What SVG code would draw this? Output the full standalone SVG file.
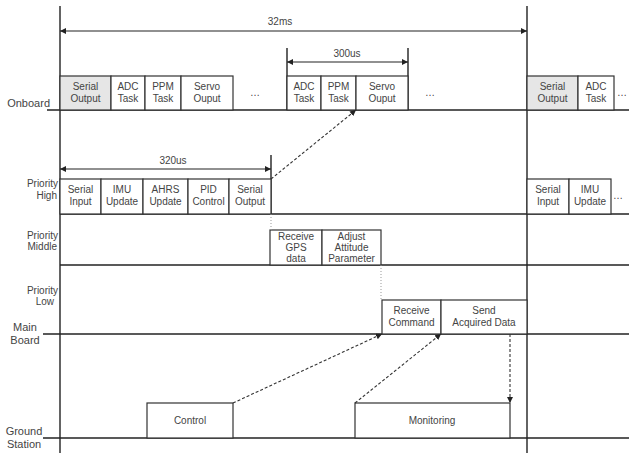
<svg xmlns="http://www.w3.org/2000/svg" width="629" height="453" viewBox="0 0 629 453">
<defs>
<marker id="ah" viewBox="0 0 10 10" refX="10" refY="5" markerWidth="6" markerHeight="6" orient="auto-start-reverse" markerUnits="userSpaceOnUse"><path d="M0,0 L10,5 L0,10 z" fill="#222"/></marker>
<style>
.ln{stroke:#222;stroke-width:1.4;fill:none}
.bx{stroke:#333;stroke-width:1.2;fill:#fff}
.gr{fill:#e6e6e6}
.t{font-family:"Liberation Sans",Arial,sans-serif;font-size:10px;fill:#444;text-anchor:middle}
.lb{font-family:"Liberation Sans",Arial,sans-serif;font-size:10px;fill:#444;text-anchor:end}
.da{stroke:#333;stroke-width:1.1;stroke-dasharray:3,2;fill:none}
.dt{stroke:#999;stroke-width:1;stroke-dasharray:1,2;fill:none}
</style>
</defs>
<rect width="629" height="453" fill="#fff"/>
<g id="axes">
<line class="ln" x1="60" y1="6" x2="60" y2="453"/>
<line class="ln" x1="527" y1="6" x2="527" y2="453"/>
<line class="ln" x1="47" y1="110" x2="629" y2="110"/>
<line class="ln" x1="60" y1="214" x2="629" y2="214"/>
<line class="ln" x1="60" y1="265" x2="629" y2="265"/>
<line class="ln" x1="43" y1="334" x2="629" y2="334"/>
<line class="ln" x1="43" y1="438" x2="629" y2="438"/>
</g>
<g id="labels">
<text class="lb" x="50" y="107" style="font-size:11px">Onboard</text>
<text class="lb" x="58" y="187">Priority</text>
<text class="lb" x="57" y="199">High</text>
<text class="lb" x="58" y="239">Priority</text>
<text class="lb" x="57" y="250">Middle</text>
<text class="lb" x="58" y="294">Priority</text>
<text class="lb" x="54" y="305">Low</text>
<text class="t" x="25" y="331" style="font-size:11px">Main</text>
<text class="t" x="25" y="344" style="font-size:11px">Board</text>
<text class="t" x="24" y="435" style="font-size:11px">Ground</text>
<text class="t" x="24" y="448" style="font-size:11px">Station</text>
</g>
<g id="dims">
<line class="ln" x1="60" y1="31" x2="527" y2="31" marker-start="url(#ah)" marker-end="url(#ah)" style="stroke-width:1.2"/>
<text class="t" x="280" y="25">32ms</text>
<line class="ln" x1="287" y1="48" x2="287" y2="110"/>
<line class="ln" x1="408" y1="48" x2="408" y2="110"/>
<line class="ln" x1="287" y1="62" x2="408" y2="62" marker-start="url(#ah)" marker-end="url(#ah)" style="stroke-width:1.2"/>
<text class="t" x="347" y="57">300us</text>
<line class="ln" x1="271" y1="155" x2="271" y2="214"/>
<line class="ln" x1="60" y1="169" x2="271" y2="169" marker-start="url(#ah)" marker-end="url(#ah)" style="stroke-width:1.2"/>
<text class="t" x="173" y="164">320us</text>
</g>
<g id="onboard">
<rect class="bx gr" x="60" y="76" width="51" height="34"/><text class="t" x="85.5" y="90">Serial</text><text class="t" x="85.5" y="102">Output</text>
<rect class="bx" x="111" y="76" width="34" height="34"/><text class="t" x="128" y="90">ADC</text><text class="t" x="128" y="102">Task</text>
<rect class="bx" x="145" y="76" width="36" height="34"/><text class="t" x="163" y="90">PPM</text><text class="t" x="163" y="102">Task</text>
<rect class="bx" x="181" y="76" width="52" height="34"/><text class="t" x="207" y="90">Servo</text><text class="t" x="207" y="102">Ouput</text>
<text class="t" x="255" y="96">…</text>
<rect class="bx" x="287" y="76" width="34" height="34"/><text class="t" x="304" y="90">ADC</text><text class="t" x="304" y="102">Task</text>
<rect class="bx" x="321" y="76" width="35" height="34"/><text class="t" x="338.5" y="90">PPM</text><text class="t" x="338.5" y="102">Task</text>
<rect class="bx" x="356" y="76" width="52" height="34"/><text class="t" x="382" y="90">Servo</text><text class="t" x="382" y="102">Ouput</text>
<text class="t" x="430" y="96">…</text>
<rect class="bx gr" x="527" y="76" width="51" height="34"/><text class="t" x="552.5" y="90">Serial</text><text class="t" x="552.5" y="102">Output</text>
<rect class="bx" x="578" y="76" width="36" height="34"/><text class="t" x="596" y="90">ADC</text><text class="t" x="596" y="102">Task</text>
<text class="t" x="622" y="96">…</text>
</g>
<g id="high">
<rect class="bx" x="60" y="179" width="41" height="35"/><text class="t" x="80.5" y="193">Serial</text><text class="t" x="80.5" y="205">Input</text>
<rect class="bx" x="101" y="179" width="42" height="35"/><text class="t" x="122" y="193">IMU</text><text class="t" x="122" y="205">Update</text>
<rect class="bx" x="143" y="179" width="45" height="35"/><text class="t" x="165.5" y="193">AHRS</text><text class="t" x="165.5" y="205">Update</text>
<rect class="bx" x="188" y="179" width="41" height="35"/><text class="t" x="208.5" y="193">PID</text><text class="t" x="208.5" y="205">Control</text>
<rect class="bx" x="229" y="179" width="42" height="35"/><text class="t" x="250" y="193">Serial</text><text class="t" x="250" y="205">Output</text>
<rect class="bx" x="527" y="179" width="42" height="35"/><text class="t" x="548" y="193">Serial</text><text class="t" x="548" y="205">Input</text>
<rect class="bx" x="569" y="179" width="42" height="35"/><text class="t" x="590" y="193">IMU</text><text class="t" x="590" y="205">Update</text>
<text class="t" x="618" y="199">…</text>
</g>
<g id="middle">
<rect class="bx" x="270" y="230" width="52" height="35"/><text class="t" x="296" y="240">Receive</text><text class="t" x="296" y="251">GPS</text><text class="t" x="296" y="262">data</text>
<rect class="bx" x="322" y="230" width="59" height="35"/><text class="t" x="351.5" y="240">Adjust</text><text class="t" x="351.5" y="251">Attitude</text><text class="t" x="351.5" y="262">Parameter</text>
</g>
<g id="low">
<rect class="bx" x="382" y="300" width="59" height="34"/><text class="t" x="411.5" y="314">Receive</text><text class="t" x="411.5" y="326">Command</text>
<rect class="bx" x="441" y="300" width="86" height="34"/><text class="t" x="484" y="314">Send</text><text class="t" x="484" y="326">Acquired Data</text>
</g>
<g id="ground">
<rect class="bx" x="147" y="403" width="86" height="35"/><text class="t" x="190" y="424">Control</text>
<rect class="bx" x="355" y="403" width="155" height="35"/><text class="t" x="432" y="424">Monitoring</text>
</g>
<g id="connectors">
<line class="da" x1="271" y1="179" x2="356" y2="110" marker-end="url(#ah)"/>
<line class="dt" x1="271" y1="214" x2="271" y2="230"/>
<line class="dt" x1="381" y1="265" x2="381" y2="300"/>
<line class="da" x1="233" y1="403" x2="382" y2="334" marker-end="url(#ah)"/>
<line class="da" x1="355" y1="403" x2="441" y2="334" marker-end="url(#ah)"/>
<line class="da" x1="510" y1="334" x2="510" y2="403" marker-end="url(#ah)"/>
</g>
</svg>
